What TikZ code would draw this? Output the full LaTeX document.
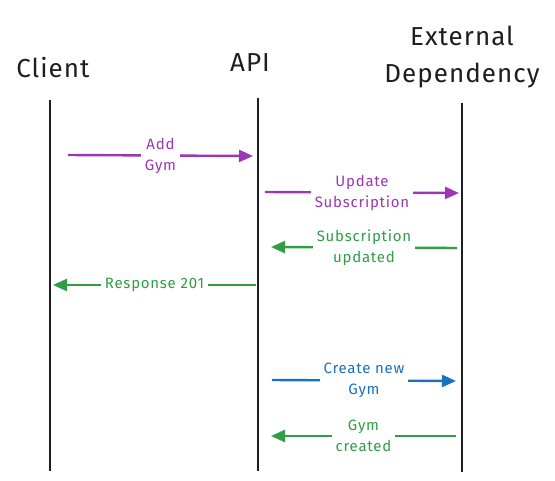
\documentclass[tikz,border=0pt]{standalone}
\usepackage{fontspec}
\setmainfont{Fira Sans}
\usetikzlibrary{arrows.meta}
\definecolor{violetx}{HTML}{9C36B5}
\definecolor{greenx}{HTML}{2F9E44}
\definecolor{bluex}{HTML}{1971C2}
\definecolor{inkx}{HTML}{1E1E1E}
\begin{document}
\begin{tikzpicture}[x=1pt,y=-1pt,
  actor/.style={font=\fontsize{26}{37}\selectfont\addfontfeature{LetterSpace=4}, text=inkx, align=center},
  lifeline/.style={draw=inkx, line width=1.8pt},
  msg/.style={line width=2.4pt, -{Triangle[length=14pt,width=12pt]}},
  msglabel/.style={font=\fontsize{15}{21}\selectfont\addfontfeature{LetterSpace=5}, fill=white, align=center, inner sep=4pt}]
\useasboundingbox (0,0) rectangle (555,480);
% participants
\node[actor] (client) at (53,68) {Client};
\node[actor] (api) at (250,63) {API};
\node[actor] (ext) at (462,57) {External\\Dependency};
% lifelines
\coordinate (cTop) at (50,100);  \coordinate (cBot) at (50,471);
\coordinate (aTop) at (258,98);  \coordinate (aBot) at (258,471);
\coordinate (eTop) at (462,103); \coordinate (eBot) at (462,472);
\draw[lifeline] (cTop) -- (cBot);
\draw[lifeline] (aTop) -- (aBot);
\draw[lifeline] (eTop) -- (eBot);
% message end points
\coordinate (m1s) at (68,155);  \coordinate (m1e) at (253,156);
\coordinate (m2s) at (265,192); \coordinate (m2e) at (459,193);
\coordinate (m3s) at (457,248); \coordinate (m3e) at (271,247);
\coordinate (m4s) at (256,285); \coordinate (m4e) at (53,285);
\coordinate (m5s) at (272,380); \coordinate (m5e) at (456,381);
\coordinate (m6s) at (456,436); \coordinate (m6e) at (271,436);
% messages
\draw[msg, violetx] (m1s) -- node[msglabel, text=violetx] (l1) {Add\\Gym} (m1e);
\draw[msg, violetx] (m2s) -- node[msglabel, text=violetx] (l2) {Update\\Subscription} (m2e);
\draw[msg, greenx] (m3s) -- node[msglabel, text=greenx] (l3) {Subscription\\updated} (m3e);
\draw[msg, greenx] (m4s) -- node[msglabel, text=greenx] (l4) {Response 201} (m4e);
\draw[msg, bluex] (m5s) -- node[msglabel, text=bluex] (l5) {Create new\\Gym} (m5e);
\draw[msg, greenx] (m6s) -- node[msglabel, text=greenx] (l6) {Gym\\created} (m6e);
\end{tikzpicture}
\end{document}
